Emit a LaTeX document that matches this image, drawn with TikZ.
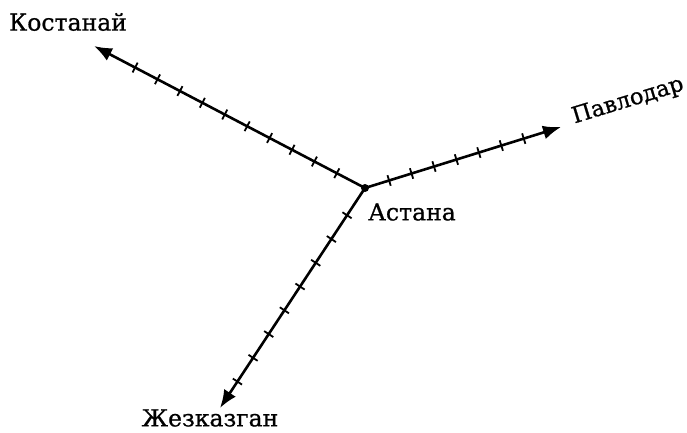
\documentclass[tikz,border=0pt]{standalone}
\usepackage{fontspec}
\setmainfont{DejaVu Serif}
\newfontfamily\cityfont{DejaVu Serif}[FakeBold=0.8]
\usetikzlibrary{arrows.meta,decorations.markings}
\begin{document}
\begin{tikzpicture}[x=1pt,y=-1pt,
  road/.style={line width=2.6pt,-{Latex[length=18pt,width=14pt]}},
  tickmark/.style={decorate,decoration={markings,
     mark=between positions #1 with {\draw[line width=1.8pt] (0,-5.5pt) -- (0,5.5pt);}}},
  city/.style={font=\cityfont\fontsize{23.5}{27}\selectfont, inner sep=0pt}]
\useasboundingbox (0,0) rectangle (687,433);
\coordinate (A) at (365,188);
\coordinate (K) at (94,46);
\coordinate (P) at (561,127);
\coordinate (Z) at (220,408);
\draw[road] (A) -- (K);
\draw[road] (A) -- (P);
\draw[road] (A) -- (Z);
\path[tickmark={0.104 and 0.85 step 0.0827}] (A) -- (K);
\path[tickmark={0.123 and 0.82 step 0.1145}] (A) -- (P);
\path[tickmark={0.124 and 0.89 step 0.108}] (A) -- (Z);
\fill (A) circle (4pt);
\node[city] (kos) at (68,22) {Костанай};
\node[city] (ast) at (412,212) {Астана};
\node[city, rotate=17, font=\cityfont\fontsize{22.5}{26}\selectfont] (pav) at (628,101) {Павлодар};
\node[city] (zhe) at (210,418) {Жезказган};
\end{tikzpicture}
\end{document}
